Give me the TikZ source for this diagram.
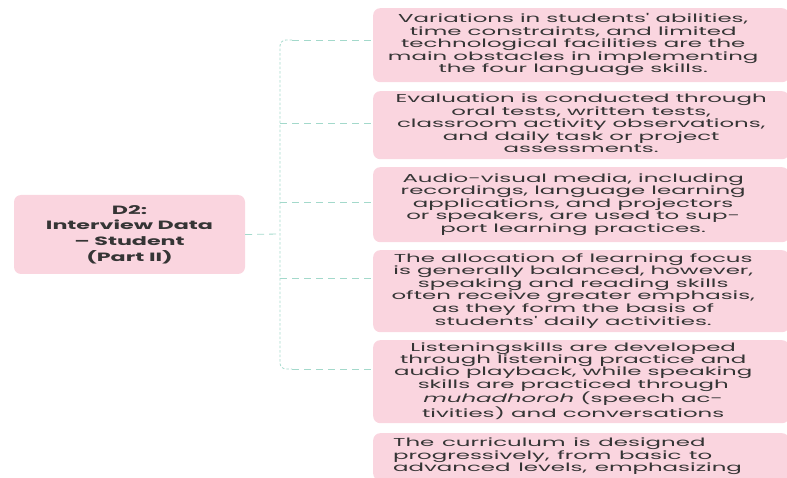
\documentclass[tikz,border=0pt]{standalone}
\usepackage{fontspec}
\usepackage{graphicx}
\usepackage{xcolor}
\usepackage{tikz}
\usetikzlibrary{calc,positioning}
\newfontfamily\mapfont{Poppins}
\definecolor{boxpink}{HTML}{FAD5DF}
\definecolor{linkteal}{HTML}{A3D9CB}
\definecolor{inkgray}{HTML}{353535}
% wide lettering: stretch a block of lines sideways
\newcommand\wide[3][c]{\scalebox{#2}[1]{\begin{tabular}{@{}#1@{}}#3\end{tabular}}}
\tikzset{
  topic/.style={rectangle, rounded corners=7pt, fill=boxpink, text=inkgray,
    font=\mapfont\bfseries\fontsize{12}{15.6}\selectfont, minimum width=231pt, minimum height=79pt},
  leaf/.style={rectangle, rounded corners=7pt, fill=boxpink, text=inkgray,
    font=\mapfont\fontsize{11.5}{12.4}\selectfont, anchor=north west, minimum width=416pt,
    inner xsep=8pt, inner ysep=2pt},
  hlink/.style={draw=linkteal, line width=0.8pt, dash pattern=on 7pt off 5pt},
  vlink/.style={draw=linkteal, line width=0.8pt, dash pattern=on 2.5pt off 2pt},
  every picture/.style={line cap=butt, line join=round}
}
\begin{document}
\begin{tikzpicture}[x=1pt,y=-1pt]
  \useasboundingbox (0,0) rectangle (787,478);
  \node[topic] (d2) at (129.5,234.5) {\wide{1.85}{D2:\\Interview Data\\– Student\\(Part II)}};
  \node[leaf, minimum height=74pt] (n1) at (373,8) {\hspace*{-16pt}\wide{1.99}{Variations in students' abilities,\\time constraints, and limited\\technological facilities are the\\main obstacles in implementing\\the four language skills.}};
  \node[leaf, minimum height=68pt] (n2) at (373,91) {\wide{1.99}{Evaluation is conducted through\\oral tests, written tests,\\classroom activity observations,\\and daily task or project\\assessments.}};
  \node[leaf, minimum height=75pt] (n3) at (373,167) {\hspace*{-16pt}\wide{1.99}{Audio-visual media, including\\recordings, language learning\\applications, and projectors\\or speakers, are used to sup-\\port learning practices.}};
  \node[leaf, minimum height=82pt] (n4) at (373,250) {\hspace*{-16pt}\wide{1.99}{The allocation of learning focus\\is generally balanced, however,\\speaking and reading skills\\often receive greater emphasis,\\as they form the basis of\\students' daily activities.}};
  \node[leaf, minimum height=83pt] (n5) at (373,340) {\hspace*{-16pt}\wide{1.99}{Listeningskills are developed\\through listening practice and\\audio playback, while speaking\\skills are practiced through\\\textit{muhadhoroh} (speech ac-\\tivities) and conversations}};
  \node[leaf, text width=400pt, align=left, inner ysep=5pt] (n6) at (373,433) {\hspace*{12pt}\wide[l]{1.99}{The curriculum is designed\\progressively, from basic to\\advanced levels, emphasizing}};
  % trunk
  \coordinate (trunk) at (280,234);
  \coordinate (j1) at (280,40);
  \coordinate (j5) at (280,369);
  \coordinate (k1) at (292,40);
  \coordinate (k5) at (292,369);
  \draw[hlink] (d2.east) -- (trunk);
  \draw[vlink, rounded corners=6pt] (k1) -- (j1) -- (j5) -- (k5);
  \draw[hlink] (k1) -- (n1.west |- k1);
  \draw[hlink] (280,123) -- (n2.west |- 0,123);
  \draw[hlink] (280,202) -- (n3.west |- 0,202);
  \draw[hlink] (280,278) -- (n4.west |- 0,278);
  \draw[hlink] (k5) -- (n5.west |- k5);
\end{tikzpicture}
\end{document}
